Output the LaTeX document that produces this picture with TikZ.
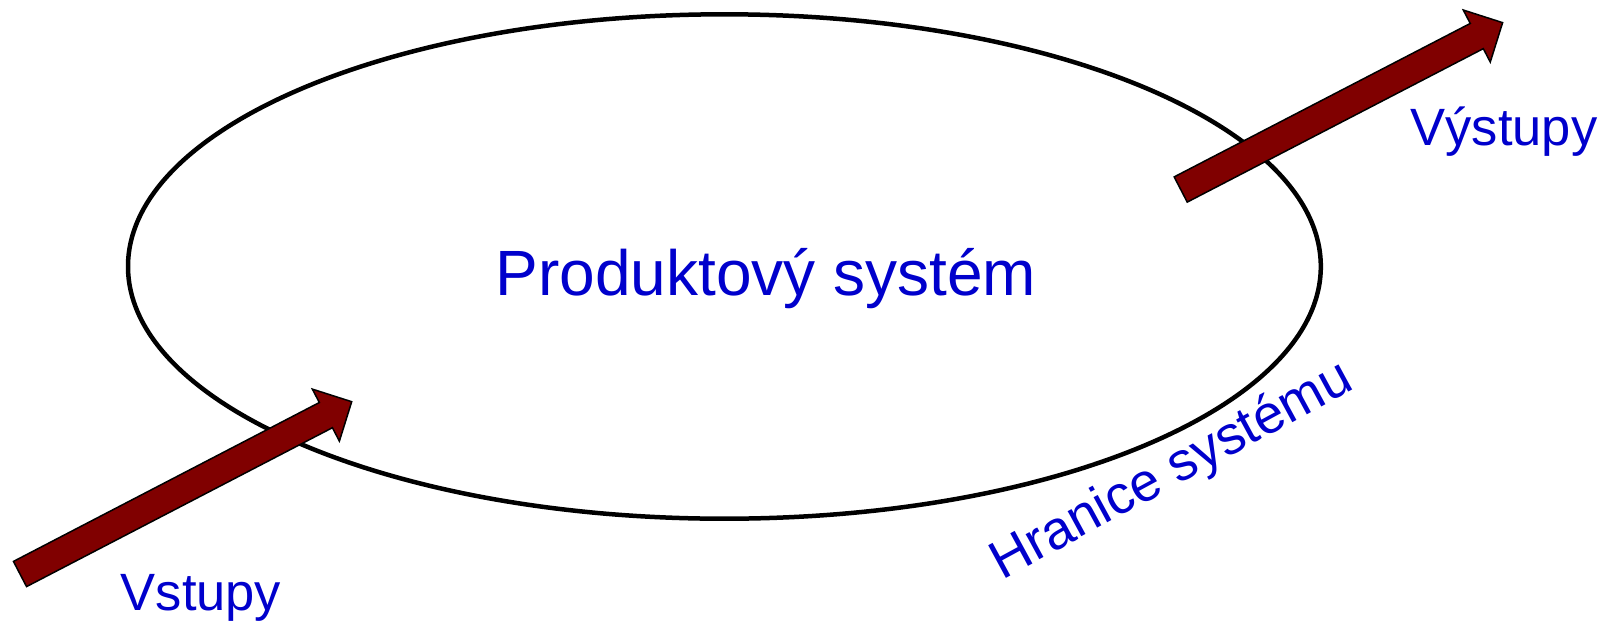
\documentclass[tikz,border=0pt]{standalone}
\usepackage{fontspec}
\setmainfont{Liberation Sans}
\usepackage{xcolor}
\usepackage{tikz}

\definecolor{textblue}{RGB}{0,0,204}
\definecolor{arrowred}{RGB}{128,0,0}

\tikzset{
  label/.style={text=textblue, inner sep=0pt, font=\fontsize{52.5}{60}\selectfont},
  sipka/.style={draw=black, line width=1.5pt, fill=arrowred, line join=miter}
}

\begin{document}
\begin{tikzpicture}[x=1pt,y=-1pt]
\useasboundingbox (0,0) rectangle (1614,622);
% system boundary
\draw[line width=4.5pt] (724.4,266.5) ellipse (596.4 and 252.2);
% inputs
\begin{scope}[shift={(20,574)},rotate=27.45]
\draw[sipka] (0,-14.2) -- (344.7,-14.2) -- (344.7,-29.3) -- (373.8,0)
  -- (344.7,29.3) -- (344.7,14.2) -- (0,14.2) -- cycle;
\end{scope}
% outputs
\begin{scope}[shift={(1180.7,189.5)},rotate=27.4]
\draw[sipka] (0,-14.2) -- (333.5,-14.2) -- (333.5,-29.3) -- (362.6,0)
  -- (333.5,29.3) -- (333.5,14.2) -- (0,14.2) -- cycle;
\end{scope}
\node[label, anchor=base, font=\fontsize{64}{72}\selectfont] (system) at (766,295) {Produktový systém};
\node[label, anchor=base] (vstupy) at (201,610) {Vstupy};
\node[label, anchor=base] (vystupy) at (1504,145) {Výstupy};
\node[label, rotate=28.5, font=\fontsize{54}{62}\selectfont] (hranice) at (1172,472) {Hranice systému};
\end{tikzpicture}
\end{document}
